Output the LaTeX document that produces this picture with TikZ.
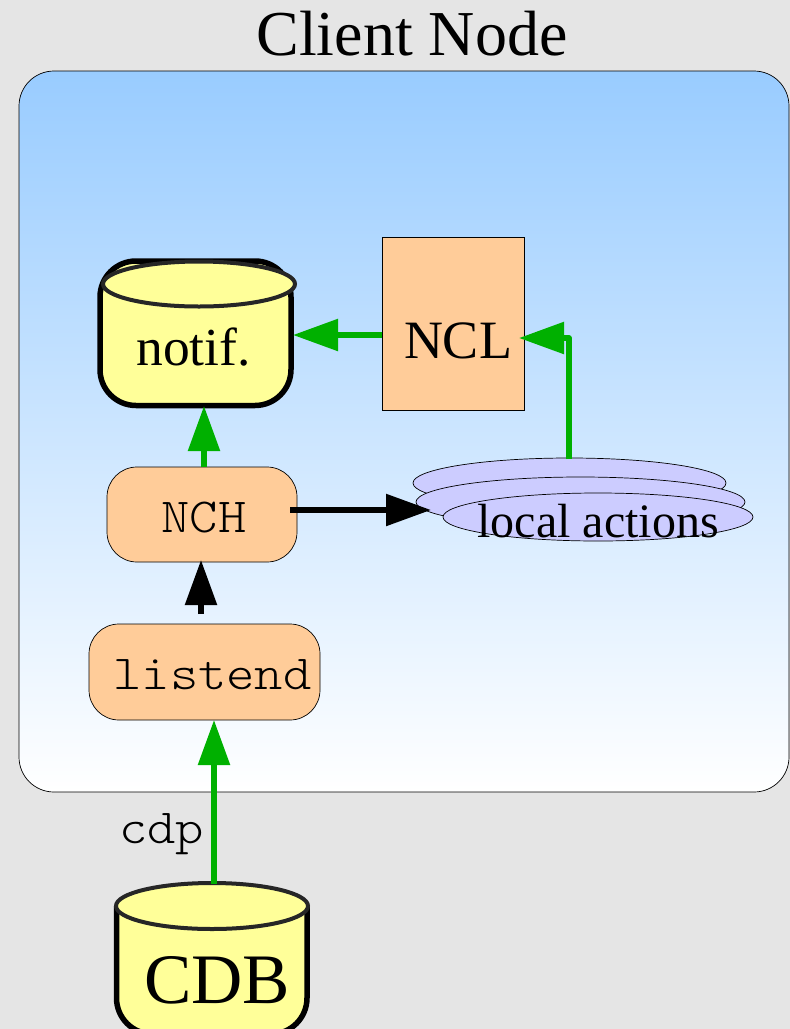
\documentclass[tikz,border=0pt]{standalone}
\usepackage{fontspec}
\setmainfont{Liberation Serif}
\setmonofont[FakeStretch=1.1]{Latin Modern Mono Light}
\usetikzlibrary{arrows.meta,shapes.geometric}
\definecolor{pagegrey}{HTML}{E5E5E5}
\definecolor{panelblue}{HTML}{99CCFF}
\definecolor{boxorange}{HTML}{FFCC99}
\definecolor{dbyellow}{HTML}{FFFF99}
\definecolor{actlilac}{HTML}{CCCCFF}
\definecolor{flowgreen}{HTML}{00B000}
\begin{document}
\begin{tikzpicture}[x=1pt,y=-1pt,
  box/.style={draw,line width=0.7pt,fill=boxorange,inner sep=0pt},
  act/.style={draw,line width=0.7pt,fill=actlilac,ellipse,inner sep=0pt},
  dbbody/.style={draw,line width=5.5pt,fill=dbyellow,rounded corners=36pt},
  dbtop/.style={draw=black!85,line width=4pt,fill=dbyellow},
  flow/.style={line width=5.5pt,line join=round,-{Triangle[length=45pt,width=31pt]}},
  txt/.style={anchor=base,inner sep=0pt},
  roman/.style={font=\fontsize{#1}{#1}\selectfont},
  mono/.style={font=\fontsize{#1}{#1}\selectfont\ttfamily}]
\useasboundingbox (0,0) rectangle (790,1029);
\fill[pagegrey] (0,0) rectangle (790,1029);
\shade[draw,line width=0.7pt,rounded corners=35pt,top color=panelblue,bottom color=white] (19,71) rectangle (789,792);
\node[txt,roman=64] (title) at (412,55) {Client Node};

\draw[dbbody] (100,261) rectangle (291,405.5);
\draw[dbtop] (199,284) ellipse [x radius=96, y radius=22.5];
\node[txt,roman=53.5] (notif) at (193.5,365) {notif.};

\node[box,minimum width=142.5pt,minimum height=173pt] (NCL) at (453.3,323.5) {};
\node[txt,roman=54] (NCLtext) at (458,358) {NCL};

\node[box,rounded corners=30pt,minimum width=190pt,minimum height=95pt] (NCH) at (202,514.5) {};
\node[txt,mono=49] (NCHtext) at (204,532) {NCH};

\node[box,rounded corners=30pt,minimum width=231pt,minimum height=96pt] (listend) at (204.5,672) {};
\node[txt,mono=49] (listendtext) at (212.5,689) {listend};

\node[act,minimum width=313pt,minimum height=50pt] (act1) at (569.5,483) {};
\node[act,minimum width=329pt,minimum height=50pt] (act2) at (580.5,502) {};
\node[act,minimum width=310pt,minimum height=48pt] (act3) at (598,517) {};
\node[txt,roman=48] (acttext) at (598,537) {local actions};

\draw[dbbody,sharp corners] (116.5,906) [rounded corners=36pt] -- (116.5,1034) -- (307,1034) [sharp corners] -- (307,906);
\draw[dbtop] (212,906) ellipse [x radius=96, y radius=23];
\node[txt,roman=71] (CDB) at (217,1003) {CDB};

\node[txt,mono=49] (cdp) at (161.5,843) {cdp};

\coordinate (CDBout) at (214,884);
\coordinate (listendin) at (214,720);
\coordinate (listendout) at (201,614);
\coordinate (NCHin) at (201,560);
\coordinate (NCHup) at (204,467);
\coordinate (notifin) at (204,406);
\coordinate (NCHright) at (290,510);
\coordinate (actin) at (431,510);
\coordinate (NCLout) at (382,335);
\coordinate (notifright) at (293,335);
\coordinate (actout) at (569,459);
\coordinate (bend) at (569,338);
\coordinate (NCLin) at (519,338);

\draw[flow,flowgreen] (CDBout) -- (listendin);
\draw[flow] (listendout) -- (NCHin);
\draw[flow,flowgreen] (NCHup) -- (notifin);
\draw[flow] (NCHright) -- (actin);
\draw[flow,flowgreen] (NCLout) -- (notifright);
\draw[flow,flowgreen] (actout) -- (bend) -- (NCLin);
\end{tikzpicture}
\end{document}
